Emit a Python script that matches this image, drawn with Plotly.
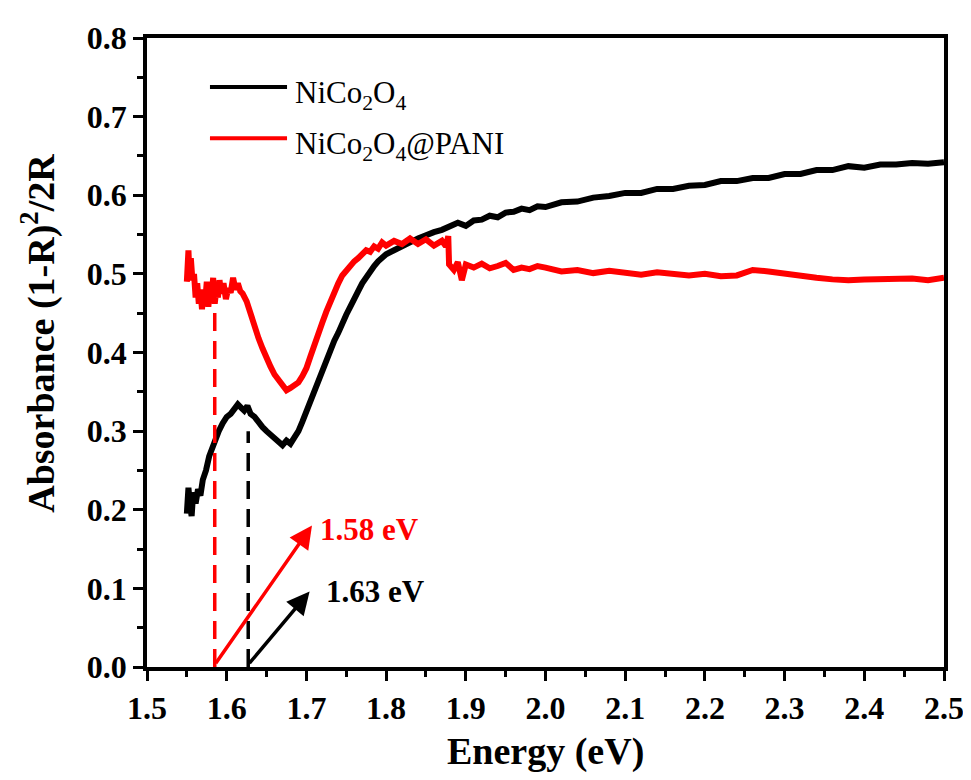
import plotly.graph_objects as go

# ---- data ----
energy_nico = [1.550, 1.552, 1.554, 1.556, 1.558, 1.561, 1.564, 1.567, 1.570, 1.574,
               1.578, 1.582, 1.586, 1.590, 1.595, 1.600, 1.605, 1.610, 1.614, 1.618,
               1.622, 1.626, 1.630, 1.635, 1.640, 1.645, 1.650, 1.655, 1.660, 1.665,
               1.670, 1.675, 1.680, 1.685, 1.690, 1.695, 1.700, 1.705, 1.710, 1.715,
               1.720, 1.725, 1.730, 1.735, 1.740, 1.745, 1.750, 1.755, 1.760, 1.765,
               1.770, 1.775, 1.780, 1.785, 1.790, 1.795, 1.800, 1.810, 1.820, 1.830,
               1.840, 1.850, 1.860, 1.870, 1.880, 1.890, 1.900, 1.910, 1.920, 1.930,
               1.940, 1.950, 1.960, 1.970, 1.980, 1.990, 2.000, 2.020, 2.040, 2.060,
               2.080, 2.100, 2.120, 2.140, 2.160, 2.180, 2.200, 2.220, 2.240, 2.260,
               2.280, 2.300, 2.320, 2.340, 2.360, 2.380, 2.400, 2.420, 2.440, 2.460,
               2.480, 2.500]
abs_nico = [0.195, 0.228, 0.205, 0.192, 0.222, 0.208, 0.226, 0.218, 0.238, 0.250,
            0.268, 0.280, 0.292, 0.300, 0.310, 0.318, 0.322, 0.328, 0.334, 0.330,
            0.326, 0.332, 0.322, 0.318, 0.310, 0.305, 0.300, 0.296, 0.290, 0.286,
            0.282, 0.288, 0.284, 0.292, 0.300, 0.312, 0.325, 0.338, 0.352, 0.366,
            0.378, 0.392, 0.402, 0.415, 0.425, 0.438, 0.448, 0.458, 0.470, 0.478,
            0.488, 0.496, 0.505, 0.510, 0.516, 0.520, 0.525, 0.530, 0.536, 0.540,
            0.545, 0.550, 0.553, 0.556, 0.560, 0.565, 0.561, 0.568, 0.569, 0.574,
            0.572, 0.578, 0.579, 0.583, 0.581, 0.586, 0.585, 0.591, 0.592, 0.597,
            0.599, 0.603, 0.603, 0.608, 0.608, 0.612, 0.613, 0.618, 0.618, 0.622,
            0.622, 0.627, 0.627, 0.632, 0.632, 0.637, 0.635, 0.639, 0.639, 0.641,
            0.640, 0.642]

energy_pani = [1.550, 1.551, 1.552, 1.553, 1.555, 1.557, 1.559, 1.561, 1.563, 1.565,
               1.567, 1.569, 1.571, 1.573, 1.575, 1.577, 1.579, 1.581, 1.583, 1.585,
               1.587, 1.589, 1.591, 1.593, 1.596, 1.599, 1.602, 1.605, 1.608, 1.611,
               1.614, 1.617, 1.620, 1.625, 1.630, 1.635, 1.640, 1.645, 1.650, 1.655,
               1.660, 1.665, 1.670, 1.675, 1.680, 1.685, 1.690, 1.695, 1.700, 1.705,
               1.710, 1.715, 1.720, 1.725, 1.730, 1.735, 1.740, 1.745, 1.750, 1.755,
               1.760, 1.765, 1.770, 1.775, 1.780, 1.785, 1.790, 1.795, 1.800, 1.810,
               1.820, 1.830, 1.840, 1.850, 1.860, 1.870, 1.875, 1.878, 1.879, 1.885,
               1.890, 1.895, 1.900, 1.910, 1.920, 1.930, 1.940, 1.950, 1.960, 1.970,
               1.980, 1.990, 2.000, 2.020, 2.040, 2.060, 2.080, 2.100, 2.120, 2.140,
               2.160, 2.180, 2.200, 2.220, 2.240, 2.260, 2.280, 2.300, 2.320, 2.340,
               2.360, 2.380, 2.400, 2.420, 2.440, 2.460, 2.480, 2.500]
abs_pani = [0.490, 0.515, 0.530, 0.505, 0.520, 0.492, 0.500, 0.470, 0.488, 0.462,
            0.480, 0.455, 0.478, 0.465, 0.490, 0.458, 0.485, 0.470, 0.495, 0.462,
            0.480, 0.470, 0.492, 0.475, 0.488, 0.468, 0.482, 0.476, 0.495, 0.480,
            0.488, 0.478, 0.475, 0.465, 0.448, 0.430, 0.418, 0.405, 0.392, 0.382,
            0.372, 0.365, 0.358, 0.352, 0.355, 0.358, 0.362, 0.370, 0.380, 0.395,
            0.408, 0.420, 0.438, 0.452, 0.465, 0.478, 0.488, 0.498, 0.505, 0.512,
            0.516, 0.520, 0.526, 0.530, 0.528, 0.535, 0.532, 0.540, 0.536, 0.542,
            0.538, 0.545, 0.538, 0.544, 0.536, 0.542, 0.535, 0.548, 0.512, 0.505,
            0.515, 0.492, 0.512, 0.508, 0.513, 0.507, 0.510, 0.514, 0.505, 0.508,
            0.506, 0.510, 0.508, 0.503, 0.505, 0.501, 0.504, 0.502, 0.499, 0.502,
            0.500, 0.498, 0.500, 0.497, 0.498, 0.505, 0.503, 0.500, 0.497, 0.495,
            0.493, 0.492, 0.493, 0.493, 0.494, 0.494, 0.492, 0.495]

gap_nico = 1.627      # labelled 1.63 eV
gap_pani = 1.585      # labelled 1.58 eV
dash_top_nico = 0.30
dash_top_pani = 0.46
arrow_tip_pani = (1.707, 0.180)
arrow_tip_nico = (1.704, 0.096)
label_pani = "1.58 eV"
label_nico = "1.63 eV"
name_nico = "NiCo<sub>2</sub>O<sub>4</sub>"
name_pani = "NiCo<sub>2</sub>O<sub>4</sub>@PANI"

x_ticks = [1.5, 1.6, 1.7, 1.8, 1.9, 2.0, 2.1, 2.2, 2.3, 2.4, 2.5]
y_ticks = [0.0, 0.1, 0.2, 0.3, 0.4, 0.5, 0.6, 0.7, 0.8]

RED = "#FF0000"
BLACK = "#000000"
SERIF = "Liberation Serif"

fig = go.Figure()

fig.add_trace(go.Scatter(x=energy_nico, y=abs_nico, mode="lines",
                         line=dict(color=BLACK, width=6), showlegend=False))
fig.add_trace(go.Scatter(x=energy_pani, y=abs_pani, mode="lines",
                         line=dict(color=RED, width=6), showlegend=False))

# dashed band-gap markers
fig.add_trace(go.Scatter(x=[gap_pani, gap_pani], y=[0, dash_top_pani], mode="lines",
                         line=dict(color=RED, width=3.5, dash="18px,10px"), showlegend=False))
fig.add_trace(go.Scatter(x=[gap_nico, gap_nico], y=[0, dash_top_nico], mode="lines",
                         line=dict(color=BLACK, width=3.5, dash="18px,10px"), showlegend=False))

# arrows
fig.add_annotation(x=arrow_tip_pani[0], y=arrow_tip_pani[1], ax=gap_pani, ay=0.003,
                   xref="x", yref="y", axref="x", ayref="y", text="", showarrow=True,
                   arrowhead=2, arrowsize=1.3, arrowwidth=3.5, arrowcolor=RED)
fig.add_annotation(x=arrow_tip_nico[0], y=arrow_tip_nico[1], ax=gap_nico, ay=0.003,
                   xref="x", yref="y", axref="x", ayref="y", text="", showarrow=True,
                   arrowhead=2, arrowsize=1.3, arrowwidth=3.5, arrowcolor=BLACK)
fig.add_annotation(x=arrow_tip_pani[0] + 0.008, y=arrow_tip_pani[1] - 0.005, xref="x", yref="y",
                   text=label_pani, showarrow=False, xanchor="left", yanchor="middle",
                   font=dict(family=SERIF, size=31, color=RED, weight="bold"))
fig.add_annotation(x=arrow_tip_nico[0] + 0.018, y=arrow_tip_nico[1], xref="x", yref="y",
                   text=label_nico, showarrow=False, xanchor="left", yanchor="middle",
                   font=dict(family=SERIF, size=31, color=BLACK, weight="bold"))

# manual legend (paper coordinates)
legend_rows = [(name_nico, BLACK, 0.922), (name_pani, RED, 0.8406)]
for name, col, yy in legend_rows:
    fig.add_shape(type="line", xref="paper", yref="paper", x0=0.079, x1=0.1757,
                  y0=yy, y1=yy, line=dict(color=col, width=4))
    fig.add_annotation(x=0.1832, y=yy - 0.012, xref="paper", yref="paper", text=name,
                       showarrow=False, xanchor="left", yanchor="middle",
                       font=dict(family=SERIF, size=31, color=BLACK))

# axis titles
fig.add_annotation(x=-0.137, y=0.531, xref="paper", yref="paper",
                   text="Absorbance (1-R)<sup>2</sup>/2R", textangle=-90, showarrow=False,
                   xanchor="center", yanchor="middle",
                   font=dict(family=SERIF, size=38, color=BLACK, weight="bold"))
fig.add_annotation(x=0.5, y=-0.134, xref="paper", yref="paper",
                   text="Energy (eV)", showarrow=False, xanchor="center", yanchor="middle",
                   font=dict(family=SERIF, size=38, color=BLACK, weight="bold"))

axis_common = dict(showgrid=False, zeroline=False, showline=True, linecolor=BLACK,
                   linewidth=3.5, mirror=True, ticks="outside", ticklen=10, tickwidth=3,
                   tickcolor=BLACK,
                   tickfont=dict(family=SERIF, size=32, color=BLACK, weight="bold"))

fig.update_xaxes(range=[1.5, 2.5], tickvals=x_ticks,
                 ticktext=[f"{v:.1f}" for v in x_ticks],
                 minor=dict(ticks="outside", ticklen=6, tickwidth=3, tickcolor=BLACK, dtick=0.05),
                 **axis_common)
fig.update_yaxes(range=[0, 0.8], tickvals=y_ticks,
                 ticktext=[f"{v:.1f}" for v in y_ticks],
                 minor=dict(ticks="outside", ticklen=6, tickwidth=3, tickcolor=BLACK, dtick=0.05),
                 **axis_common)

# page body adds an 8px offset, so margins are shifted to land the plot area in place
fig.update_layout(width=971, height=780, plot_bgcolor="white", paper_bgcolor="white",
                  margin=dict(l=139, r=35, t=19, b=121), showlegend=False)

fig.write_html("out.html")
